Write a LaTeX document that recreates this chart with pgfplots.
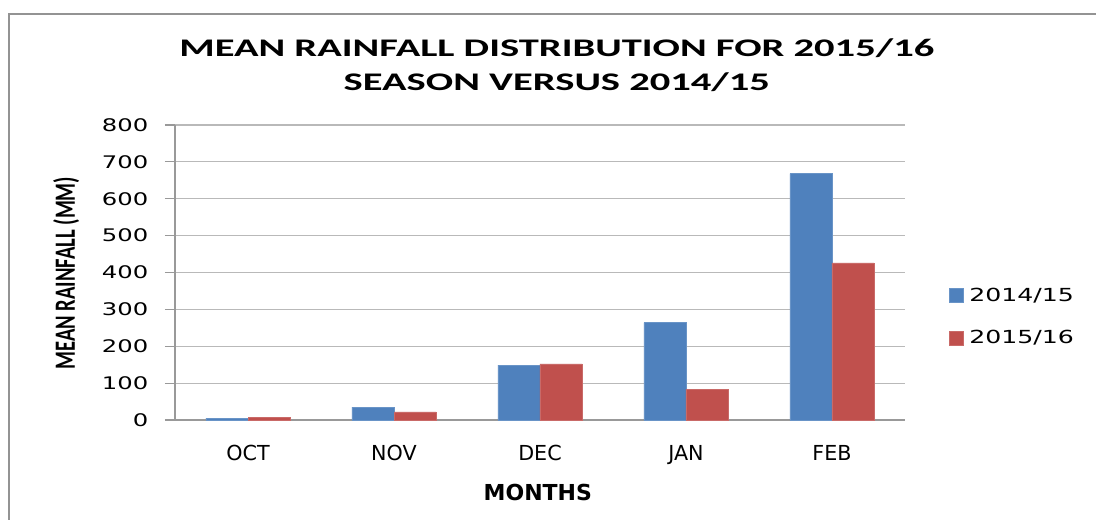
\documentclass[border=0pt]{standalone}
\usepackage{fontspec}
\setmainfont{Carlito}
\newfontfamily\dv{DejaVu Sans}
\newfontfamily\dvwide[FakeStretch=1.4]{DejaVu Sans}
\newfontfamily\cond[FakeStretch=0.7]{Carlito}
\newfontfamily\titlefont[FakeStretch=1.6]{Carlito}
\usepackage{pgfplots}
\pgfplotsset{compat=1.18}
\definecolor{s1}{HTML}{4F81BD}
\definecolor{s2}{HTML}{C0504D}
\begin{document}
\begin{tikzpicture}[x=1pt,y=1pt]
\useasboundingbox (0,0) rectangle (822,389.25);
\draw[color=gray!85, line width=1.5pt] (6.75,-5) -- (6.75,378.75) -- (830,378.75);
\begin{axis}[
  at={(131.25pt,74.25pt)}, anchor=south west,
  scale only axis, width=547.5pt, height=221.25pt,
  ybar=0pt, bar width=31.5pt,
  xmin=-0.5, xmax=4.5, ymin=0, ymax=800,
  xtick={0,1,2,3,4}, xticklabels={OCT,NOV,DEC,JAN,FEB},
  ytick={0,100,...,800},
  axis lines=left, axis line style={-, draw=gray!80, line width=0.8pt},
  ymajorgrids, grid style={gray!55, line width=0.8pt},
  x tick style={draw=none},
  y tick style={draw=gray!80, line width=0.8pt},
  tick align=outside, major tick length=7.5pt,
  /pgf/number format/assume math mode=true,
  yticklabel style={font=\dvwide\fontsize{13}{15}\selectfont, anchor=east, xshift=-9pt},
  xticklabel style={font=\dv\fontsize{15.5}{18}\selectfont, anchor=base, yshift=-23pt},
  xlabel={MONTHS},
  xlabel style={font=\dv\bfseries\fontsize{16.5}{19}\selectfont, at={(axis description cs:0.497,0)}, anchor=base, yshift=-60pt},
  ylabel={MEAN RAINFALL (MM)},
  ylabel style={font=\cond\bfseries\fontsize{22}{26}\selectfont, at={(axis description cs:-0.149,0.498)}, anchor=center},
  title={MEAN RAINFALL DISTRIBUTION FOR 2015/16\\SEASON VERSUS 2014/15},
  title style={font=\titlefont\bfseries\fontsize{19}{25.5}\selectfont, align=center, at={(axis description cs:0.523,1.175)}, anchor=center},
  legend style={at={(axis description cs:1.055,0.35)}, anchor=west, draw=none, fill=none, font=\dvwide\fontsize{13.5}{15}\selectfont, row sep=12pt, legend cell align=left, nodes={inner sep=4pt}},
  legend image code/.code={\fill[#1] (0pt,-5.25pt) rectangle (10.5pt,5.25pt);},
]
\addplot[fill=s1, draw=s1!85!white] coordinates {(0,5) (1,35) (2,149) (3,264) (4,668)};
\addplot[fill=s2, draw=s2!85!white] coordinates {(0,8) (1,22) (2,152) (3,83) (4,426)};
\legend{2014/15,2015/16}
\end{axis}
\end{tikzpicture}
\end{document}
